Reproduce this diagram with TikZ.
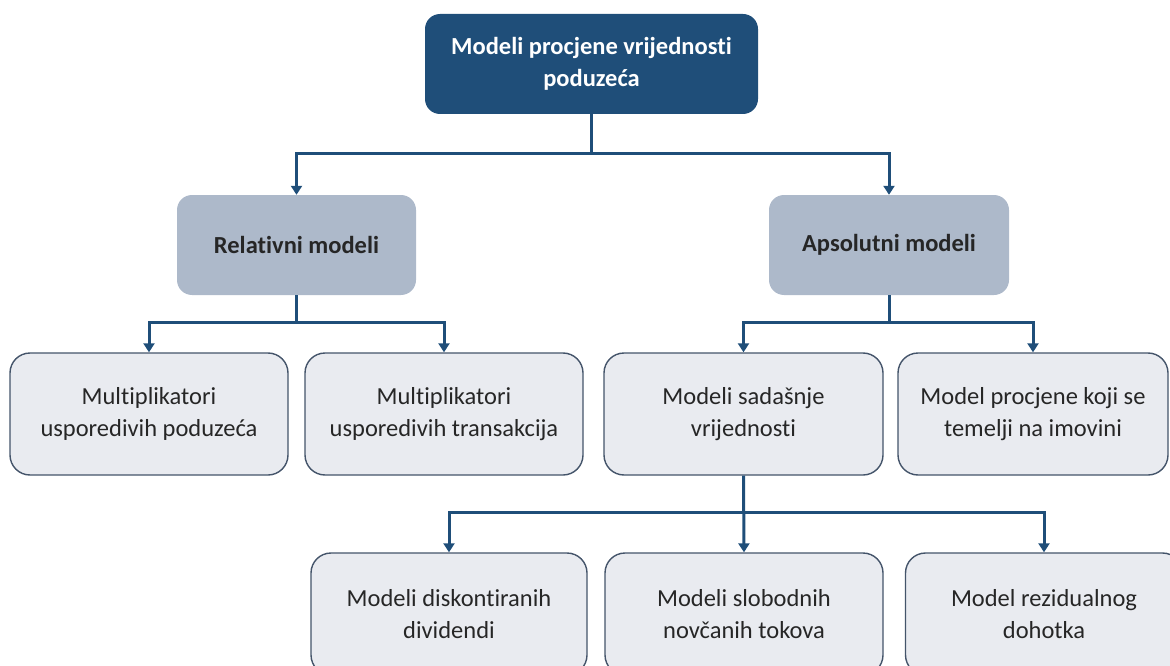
\documentclass[tikz,border=0pt]{standalone}
\usepackage{fontspec}
\setmainfont[Ligatures={NoCommon}]{Carlito}
\usetikzlibrary{arrows.meta}
\definecolor{navy}{HTML}{1F4E79}
\definecolor{slate}{HTML}{ADB9CA}
\definecolor{pale}{HTML}{E9EBF0}
\definecolor{rim}{HTML}{44546A}
\definecolor{ink}{HTML}{262626}
\begin{document}
\begin{tikzpicture}[x=1pt,y=-1pt,
  box/.style={align=center, inner sep=0pt, font=\fontsize{24.5}{32}\selectfont},
  headbox/.style={box, rounded corners=15pt, fill=navy, text=white,
    font=\bfseries\fontsize{24.5}{32}\selectfont, minimum width=333pt, minimum height=100pt},
  groupbox/.style={box, rounded corners=15pt, fill=slate, text=ink,
    font=\bfseries\fontsize{24.5}{32}\selectfont, minimum height=100pt},
  leafbox/.style={box, rounded corners=20pt, fill=pale, draw=rim, line width=1.4pt,
    text=ink, minimum height=122pt},
  conn/.style={draw=navy, line width=3pt},
  arr/.style={conn, -{Triangle[width=11pt,length=9pt]}}]
\useasboundingbox (0,0) rectangle (1170,666);
\clip (0,0) rectangle (1170,666);

% root
\node[headbox] (top) at (591.5,64) {Modeli procjene vrijednosti\\poduzeća};

% second level
\node[groupbox, minimum width=239pt] (rel) at (296.5,245) {Relativni modeli};
\node[groupbox, minimum width=240pt] (aps) at (889,245) {Apsolutni modeli};

% third level
\node[leafbox, minimum width=278pt] (m1) at (149,414) {Multiplikatori\\usporedivih poduzeća};
\node[leafbox, minimum width=278pt] (m2) at (444,414) {Multiplikatori\\usporedivih transakcija};
\node[leafbox, minimum width=279pt] (m3) at (743.5,414) {Modeli sadašnje\\vrijednosti};
\node[leafbox, minimum width=270pt] (m4) at (1033,414) {Model procjene koji se\\temelji na imovini};

% fourth level
\node[leafbox, minimum width=276pt] (b1) at (449,614) {Modeli diskontiranih\\dividendi};
\node[leafbox, minimum width=278pt] (b2) at (744,614) {Modeli slobodnih\\novčanih tokova};
\node[leafbox, minimum width=277pt] (b3) at (1044,614) {Model rezidualnog\\dohotka};

% connectors
\draw[conn] (top.south) -- ++(0,39) coordinate (j0);
\draw[arr] (j0) -| (rel.north);
\draw[arr] (j0) -| (aps.north);

\draw[conn] (rel.south) -- ++(0,27) coordinate (j1);
\draw[arr] (j1) -| (m1.north);
\draw[arr] (j1) -| (m2.north);

\draw[conn] (aps.south) -- ++(0,27) coordinate (j2);
\draw[arr] (j2) -| (m3.north);
\draw[arr] (j2) -| (m4.north);

\draw[conn] (m3.south) -- ++(0,37) coordinate (j3);
\draw[arr] (j3) -| (b1.north);
\draw[arr] (m3.south) -- (b2.north);
\draw[arr] (j3) -| (b3.north);
\end{tikzpicture}
\end{document}
